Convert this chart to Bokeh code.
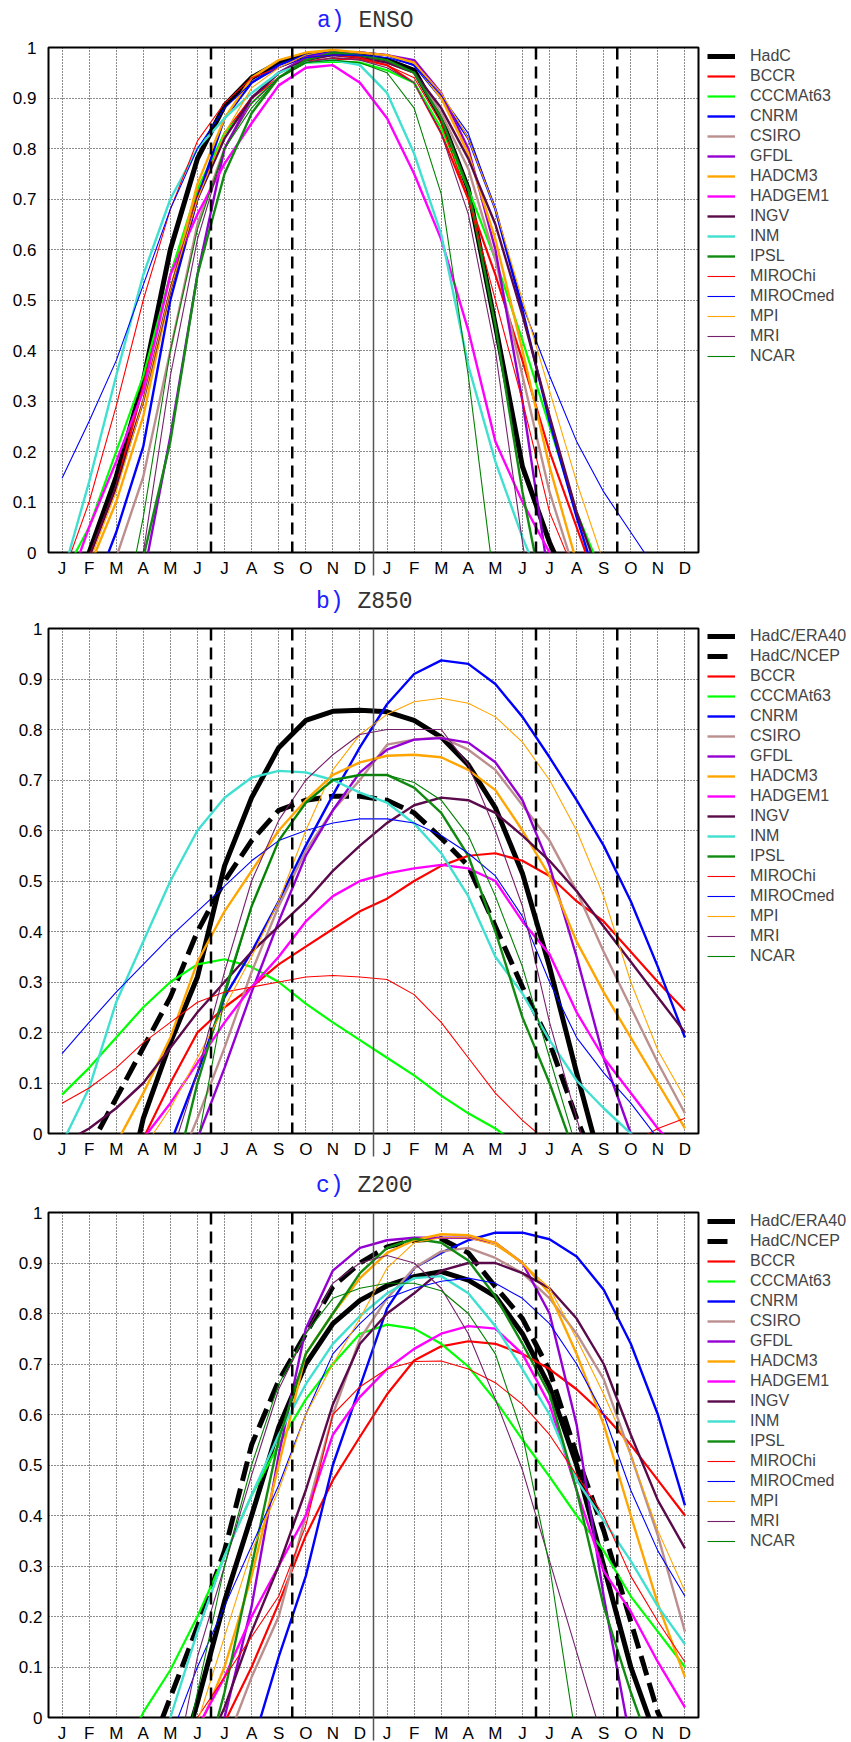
from bokeh.plotting import figure
from bokeh.models import Range1d, Legend, LegendItem, Span, Div, FixedTicker
from bokeh.layouts import column
from bokeh.embed import file_html
from bokeh.resources import INLINE

# ---------------- axes / categories ----------------
MONTHS = list(range(1, 25))
MONTH_LABELS = ["J", "F", "M", "A", "M", "J", "J", "A", "S", "O", "N", "D"] * 2
Y_TICKS = [0, 0.1, 0.2, 0.3, 0.4, 0.5, 0.6, 0.7, 0.8, 0.9, 1]
DASHED_MONTHS = [6.5, 9.5, 18.5, 21.5]
YEAR_BOUNDARY = 12.5

MODELS = ["BCCR", "CCCMAt63", "CNRM", "CSIRO", "GFDL", "HADCM3", "HADGEM1", "INGV",
          "INM", "IPSL", "MIROChi", "MIROCmed", "MPI", "MRI", "NCAR"]

# ---------------- a) ENSO ----------------
a_HadC = [-0.15, 0.0, 0.15, 0.34, 0.60, 0.78, 0.885, 0.94, 0.97, 0.985, 0.99, 0.985, 0.975, 0.955, 0.86, 0.72, 0.45, 0.17, 0.02, -0.1, -0.25, -0.4, -0.5, -0.6]
a_BCCR = [-0.2, -0.01, 0.13, 0.33, 0.55, 0.71, 0.83, 0.9, 0.94, 0.972, 0.978, 0.977, 0.965, 0.93, 0.83, 0.7, 0.55, 0.38, 0.2, 0.05, -0.1, -0.25, -0.4, -0.5]
a_CCCMAt63 = [-0.05, 0.05, 0.2, 0.35, 0.55, 0.72, 0.83, 0.89, 0.94, 0.97, 0.972, 0.97, 0.955, 0.93, 0.84, 0.72, 0.58, 0.42, 0.25, 0.08, -0.05, -0.2, -0.35, -0.5]
a_CNRM = [-0.3, -0.1, 0.04, 0.21, 0.5, 0.7, 0.86, 0.93, 0.965, 0.985, 0.99, 0.99, 0.985, 0.965, 0.9, 0.82, 0.68, 0.48, 0.26, 0.07, -0.1, -0.25, -0.4, -0.5]
a_CSIRO = [-0.4, -0.2, -0.01, 0.15, 0.4, 0.65, 0.8, 0.9, 0.95, 0.98, 0.985, 0.98, 0.97, 0.95, 0.87, 0.76, 0.58, 0.35, 0.12, -0.05, -0.2, -0.35, -0.5, -0.6]
a_GFDL = [-0.6, -0.45, -0.3, -0.05, 0.23, 0.55, 0.8, 0.9, 0.95, 0.98, 0.99, 0.99, 0.985, 0.975, 0.91, 0.8, 0.6, 0.3, -0.06, -0.3, -0.5, -0.6, -0.7, -0.8]
a_HADCM3 = [-0.3, -0.03, 0.1, 0.27, 0.52, 0.73, 0.86, 0.94, 0.975, 0.99, 0.995, 0.99, 0.985, 0.97, 0.9, 0.79, 0.62, 0.4, 0.17, -0.02, -0.2, -0.35, -0.5, -0.6]
a_HADGEM1 = [-0.1, 0.05, 0.18, 0.32, 0.55, 0.67, 0.77, 0.85, 0.925, 0.96, 0.965, 0.93, 0.86, 0.75, 0.62, 0.44, 0.22, 0.1, 0.0, -0.1, -0.2, -0.3, -0.4, -0.5]
a_INGV = [-0.15, -0.01, 0.13, 0.3, 0.52, 0.7, 0.82, 0.9, 0.95, 0.975, 0.985, 0.98, 0.97, 0.95, 0.88, 0.78, 0.65, 0.47, 0.27, 0.08, -0.07, -0.2, -0.35, -0.5]
a_INM = [-0.05, 0.14, 0.35, 0.55, 0.7, 0.8, 0.86, 0.91, 0.95, 0.97, 0.975, 0.965, 0.91, 0.79, 0.63, 0.37, 0.18, 0.03, -0.1, -0.2, -0.3, -0.4, -0.5, -0.6]
a_IPSL = [-0.6, -0.45, -0.2, -0.01, 0.22, 0.55, 0.75, 0.87, 0.94, 0.975, 0.99, 0.985, 0.975, 0.95, 0.86, 0.72, 0.45, 0.12, -0.15, -0.3, -0.45, -0.6, -0.7, -0.8]
a_MIROChi = [-0.05, 0.1, 0.29, 0.5, 0.68, 0.815, 0.89, 0.94, 0.96, 0.98, 0.985, 0.98, 0.965, 0.94, 0.85, 0.7, 0.5, 0.3, 0.08, -0.05, -0.2, -0.3, -0.4, -0.5]
a_MIROCmed = [0.147, 0.26, 0.38, 0.53, 0.68, 0.8, 0.88, 0.93, 0.96, 0.98, 0.985, 0.985, 0.98, 0.965, 0.905, 0.83, 0.68, 0.49, 0.35, 0.22, 0.12, 0.04, -0.04, -0.1]
a_MPI = [-0.25, -0.02, 0.12, 0.3, 0.52, 0.7, 0.83, 0.92, 0.96, 0.985, 0.995, 0.99, 0.985, 0.97, 0.91, 0.82, 0.68, 0.5, 0.32, 0.14, -0.02, -0.15, -0.3, -0.4]
a_MRI = [-0.6, -0.4, -0.2, 0.0, 0.35, 0.62, 0.8, 0.89, 0.94, 0.97, 0.98, 0.975, 0.96, 0.93, 0.83, 0.67, 0.4, 0.02, -0.3, -0.5, -0.6, -0.7, -0.8, -0.9]
a_NCAR = [-0.5, -0.35, -0.2, 0.07, 0.4, 0.64, 0.8, 0.88, 0.94, 0.97, 0.975, 0.97, 0.95, 0.88, 0.71, 0.35, -0.08, -0.3, -0.5, -0.6, -0.7, -0.8, -0.9, -1.0]

# ---------------- b) Z850 ----------------
b_ERA40 = [-0.5, -0.35, -0.2, 0.03, 0.18, 0.31, 0.53, 0.665, 0.764, 0.818, 0.836, 0.838, 0.835, 0.818, 0.785, 0.73, 0.645, 0.515, 0.33, 0.12, -0.08, -0.25, -0.4, -0.5]
b_NCEP = [-0.2, -0.03, 0.07, 0.17, 0.27, 0.40, 0.5, 0.58, 0.64, 0.66, 0.668, 0.668, 0.66, 0.635, 0.585, 0.53, 0.41, 0.29, 0.18, 0.03, -0.1, -0.2, -0.3, -0.4]
b_BCCR = [-0.3, -0.2, -0.1, -0.01, 0.1, 0.2, 0.25, 0.29, 0.335, 0.37, 0.405, 0.44, 0.465, 0.5, 0.53, 0.55, 0.555, 0.54, 0.51, 0.46, 0.42, 0.36, 0.3, 0.243]
b_CCCMAt63 = [0.077, 0.13, 0.19, 0.25, 0.30, 0.335, 0.345, 0.33, 0.3, 0.257, 0.22, 0.185, 0.15, 0.115, 0.075, 0.04, 0.01, -0.03, -0.06, -0.08, -0.1, -0.1, -0.1, -0.1]
b_CNRM = [-0.5, -0.4, -0.3, -0.15, -0.02, 0.12, 0.27, 0.36, 0.46, 0.57, 0.67, 0.765, 0.85, 0.91, 0.937, 0.93, 0.89, 0.825, 0.745, 0.66, 0.57, 0.46, 0.33, 0.19]
b_CSIRO = [-0.5, -0.4, -0.3, -0.2, -0.1, 0.03, 0.17, 0.32, 0.45, 0.56, 0.64, 0.70, 0.77, 0.78, 0.785, 0.76, 0.72, 0.65, 0.58, 0.48, 0.36, 0.25, 0.14, 0.04]
b_GFDL = [-0.7, -0.6, -0.5, -0.4, -0.2, -0.01, 0.13, 0.28, 0.42, 0.55, 0.64, 0.715, 0.76, 0.78, 0.783, 0.774, 0.735, 0.66, 0.53, 0.35, 0.15, 0.0, -0.15, -0.3]
b_HADCM3 = [-0.3, -0.15, -0.02, 0.08, 0.19, 0.34, 0.44, 0.52, 0.6, 0.66, 0.71, 0.735, 0.748, 0.75, 0.745, 0.72, 0.68, 0.6, 0.51, 0.38, 0.28, 0.19, 0.1, 0.01]
b_HADGEM1 = [-0.3, -0.2, -0.1, -0.01, 0.06, 0.14, 0.22, 0.29, 0.35, 0.42, 0.47, 0.5, 0.515, 0.525, 0.532, 0.525, 0.5, 0.42, 0.355, 0.24, 0.15, 0.08, 0.01, -0.05]
b_INGV = [-0.02, 0.01, 0.05, 0.1, 0.17, 0.24, 0.3, 0.36, 0.41, 0.46, 0.52, 0.57, 0.615, 0.65, 0.665, 0.66, 0.635, 0.59, 0.54, 0.48, 0.41, 0.34, 0.27, 0.2]
b_INM = [-0.02, 0.09, 0.26, 0.38, 0.5, 0.6, 0.665, 0.705, 0.718, 0.715, 0.7, 0.675, 0.655, 0.614, 0.555, 0.47, 0.35, 0.277, 0.185, 0.105, 0.05, 0.0, -0.05, -0.1]
b_IPSL = [-0.7, -0.6, -0.5, -0.35, -0.12, 0.1, 0.28, 0.45, 0.58, 0.655, 0.7, 0.71, 0.71, 0.685, 0.635, 0.55, 0.4, 0.23, 0.1, -0.05, -0.2, -0.3, -0.4, -0.5]
b_MIROChi = [0.06, 0.09, 0.13, 0.18, 0.22, 0.26, 0.28, 0.29, 0.30, 0.31, 0.313, 0.31, 0.305, 0.275, 0.22, 0.15, 0.08, 0.026, -0.02, -0.05, -0.05, -0.02, 0.01, 0.03]
b_MIROCmed = [0.158, 0.22, 0.28, 0.335, 0.39, 0.44, 0.49, 0.54, 0.58, 0.6, 0.615, 0.623, 0.623, 0.615, 0.59, 0.555, 0.51, 0.43, 0.3, 0.19, 0.12, 0.06, -0.01, -0.06]
b_MPI = [-0.3, -0.2, -0.1, -0.03, 0.05, 0.15, 0.25, 0.35, 0.46, 0.6, 0.72, 0.79, 0.83, 0.855, 0.862, 0.852, 0.825, 0.775, 0.7, 0.6, 0.47, 0.3, 0.165, 0.07]
b_MRI = [-0.6, -0.5, -0.4, -0.3, -0.05, 0.12, 0.32, 0.5, 0.62, 0.7, 0.75, 0.79, 0.8, 0.8, 0.8, 0.73, 0.6, 0.45, 0.22, 0.03, -0.15, -0.3, -0.45, -0.6]
b_NCAR = [-0.7, -0.6, -0.5, -0.4, -0.25, -0.02, 0.27, 0.45, 0.58, 0.655, 0.7, 0.71, 0.71, 0.695, 0.66, 0.59, 0.47, 0.33, 0.15, -0.03, -0.2, -0.3, -0.4, -0.5]

# ---------------- c) Z200 ----------------
c_ERA40 = [-0.6, -0.5, -0.4, -0.3, -0.15, 0.03, 0.23, 0.40, 0.575, 0.70, 0.78, 0.826, 0.855, 0.873, 0.883, 0.866, 0.834, 0.76, 0.655, 0.5, 0.3, 0.1, -0.05, -0.2]
c_NCEP = [-0.4, -0.3, -0.2, -0.1, 0.04, 0.18, 0.33, 0.54, 0.667, 0.76, 0.853, 0.9, 0.932, 0.945, 0.948, 0.92, 0.853, 0.79, 0.687, 0.52, 0.37, 0.19, 0.01, -0.1]
c_BCCR = [-0.7, -0.6, -0.5, -0.4, -0.3, -0.2, -0.01, 0.1, 0.226, 0.36, 0.47, 0.556, 0.64, 0.707, 0.735, 0.745, 0.74, 0.72, 0.69, 0.65, 0.6, 0.54, 0.47, 0.40]
c_CCCMAt63 = [-0.3, -0.2, -0.1, 0.01, 0.094, 0.2, 0.32, 0.44, 0.54, 0.63, 0.7, 0.76, 0.778, 0.77, 0.74, 0.695, 0.628, 0.55, 0.477, 0.4, 0.33, 0.24, 0.17, 0.1]
c_CNRM = [-0.9, -0.8, -0.7, -0.6, -0.5, -0.4, -0.3, -0.06, 0.12, 0.28, 0.5, 0.655, 0.81, 0.89, 0.92, 0.945, 0.96, 0.96, 0.947, 0.913, 0.847, 0.74, 0.6, 0.42]
c_CSIRO = [-0.8, -0.7, -0.6, -0.5, -0.4, -0.3, -0.06, 0.08, 0.2, 0.4, 0.6, 0.75, 0.83, 0.89, 0.923, 0.93, 0.91, 0.88, 0.83, 0.76, 0.67, 0.52, 0.36, 0.17]
c_GFDL = [-0.8, -0.7, -0.6, -0.5, -0.4, -0.2, 0.0, 0.22, 0.52, 0.77, 0.885, 0.93, 0.945, 0.95, 0.95, 0.95, 0.94, 0.9, 0.8, 0.58, 0.24, -0.05, -0.3, -0.5]
c_HADCM3 = [-0.6, -0.5, -0.4, -0.3, -0.2, -0.03, 0.1, 0.28, 0.5, 0.72, 0.8, 0.87, 0.92, 0.945, 0.957, 0.955, 0.94, 0.9, 0.84, 0.72, 0.58, 0.4, 0.225, 0.08]
c_HADGEM1 = [-0.6, -0.5, -0.4, -0.3, -0.2, -0.02, 0.08, 0.2, 0.3, 0.4, 0.56, 0.635, 0.69, 0.73, 0.76, 0.775, 0.77, 0.72, 0.62, 0.45, 0.29, 0.21, 0.11, 0.02]
c_INGV = [-0.6, -0.5, -0.4, -0.3, -0.2, -0.1, 0.02, 0.17, 0.3, 0.45, 0.62, 0.74, 0.8, 0.84, 0.885, 0.9, 0.9, 0.88, 0.85, 0.79, 0.7, 0.56, 0.43, 0.335]
c_INM = [-0.5, -0.4, -0.3, -0.2, 0.0, 0.17, 0.32, 0.44, 0.56, 0.66, 0.74, 0.795, 0.84, 0.87, 0.874, 0.84, 0.775, 0.69, 0.6, 0.47, 0.39, 0.31, 0.22, 0.145]
c_IPSL = [-0.8, -0.7, -0.6, -0.5, -0.4, -0.15, 0.05, 0.3, 0.55, 0.72, 0.8, 0.88, 0.93, 0.948, 0.94, 0.905, 0.834, 0.74, 0.64, 0.45, 0.22, 0.05, -0.1, -0.2]
c_MIROChi = [-0.4, -0.3, -0.2, -0.12, -0.05, 0.0, 0.08, 0.16, 0.24, 0.38, 0.6, 0.655, 0.69, 0.705, 0.706, 0.69, 0.663, 0.62, 0.56, 0.48, 0.4, 0.28, 0.19, 0.11]
c_MIROCmed = [-0.4, -0.3, -0.2, -0.12, -0.04, 0.1, 0.22, 0.34, 0.46, 0.6, 0.72, 0.78, 0.83, 0.85, 0.864, 0.87, 0.86, 0.83, 0.78, 0.7, 0.6, 0.45, 0.33, 0.24]
c_MPI = [-0.5, -0.4, -0.3, -0.2, -0.1, -0.01, 0.16, 0.33, 0.45, 0.6, 0.7, 0.79, 0.89, 0.94, 0.95, 0.95, 0.935, 0.9, 0.85, 0.75, 0.64, 0.52, 0.37, 0.25]
c_MRI = [-0.6, -0.5, -0.4, -0.3, -0.15, 0.12, 0.3, 0.48, 0.65, 0.76, 0.86, 0.9, 0.915, 0.9, 0.85, 0.76, 0.63, 0.49, 0.31, 0.13, -0.05, -0.2, -0.35, -0.5]
c_NCAR = [-0.6, -0.5, -0.4, -0.3, -0.2, 0.05, 0.3, 0.5, 0.66, 0.76, 0.83, 0.85, 0.86, 0.86, 0.845, 0.8, 0.72, 0.56, 0.3, -0.05, -0.3, -0.5, -0.6, -0.7]

# ---------------- styles ----------------
STYLE = {
    "BCCR": ("#ff0000", 2.2), "CCCMAt63": ("#00ff00", 2.2), "CNRM": ("#0000ff", 2.4),
    "CSIRO": ("#bc8f8f", 2.4), "GFDL": ("#9400d3", 2.4), "HADCM3": ("#ffa500", 2.4),
    "HADGEM1": ("#ff00ff", 2.4), "INGV": ("#5a0a4a", 2.4), "INM": ("#40e0d0", 2.4),
    "IPSL": ("#108a10", 2.4), "MIROChi": ("#ff0000", 1.1), "MIROCmed": ("#0000ff", 1.1),
    "MPI": ("#ffa500", 1.1), "MRI": ("#75206a", 1.1), "NCAR": ("#008000", 1.1),
}

PANEL_A = dict(zip(MODELS, [a_BCCR, a_CCCMAt63, a_CNRM, a_CSIRO, a_GFDL, a_HADCM3, a_HADGEM1,
                            a_INGV, a_INM, a_IPSL, a_MIROChi, a_MIROCmed, a_MPI, a_MRI, a_NCAR]))
PANEL_B = dict(zip(MODELS, [b_BCCR, b_CCCMAt63, b_CNRM, b_CSIRO, b_GFDL, b_HADCM3, b_HADGEM1,
                            b_INGV, b_INM, b_IPSL, b_MIROChi, b_MIROCmed, b_MPI, b_MRI, b_NCAR]))
PANEL_C = dict(zip(MODELS, [c_BCCR, c_CCCMAt63, c_CNRM, c_CSIRO, c_GFDL, c_HADCM3, c_HADGEM1,
                            c_INGV, c_INM, c_IPSL, c_MIROChi, c_MIROCmed, c_MPI, c_MRI, c_NCAR]))

FW, FH = 650, 505
TOTAL_W = 851
FONT = "Liberation Sans"
ROW = 20
BOUNDARY_TICK = 23


def make_title(letter, name, height, line_h, pad_left):
    html = ('<span style="color:#2020ff">%s</span>&nbsp;%s' % (letter, name))
    return Div(text=html, width=TOTAL_W, height=height, margin=(0, 0, 0, 0),
               styles={"font-family": "'Liberation Mono', monospace", "font-size": "23px",
                       "color": "#333333", "line-height": "%dpx" % line_h,
                       "padding-left": "%dpx" % pad_left, "white-space": "nowrap"})


def make_panel(refs, models, left, top, bottom, ystand, legend_top_extra):
    p = figure(frame_width=FW, frame_height=FH,
               min_border_left=left, min_border_right=TOTAL_W - left - FW,
               min_border_top=top, min_border_bottom=bottom,
               x_range=Range1d(0.5, 24.5), y_range=Range1d(0, 1),
               output_backend="svg", toolbar_location=None, margin=(0, 0, 0, 0))
    p.background_fill_color = "white"
    p.border_fill_color = "white"
    p.outline_line_color = "black"
    p.outline_line_width = 2

    # month ticks carry the labels; the minor tick marks the year boundary below the frame
    p.xaxis.ticker = FixedTicker(ticks=MONTHS, minor_ticks=[YEAR_BOUNDARY])
    p.xaxis.major_label_overrides = {m: lab for m, lab in zip(MONTHS, MONTH_LABELS)}
    p.yaxis.ticker = FixedTicker(ticks=Y_TICKS, minor_ticks=[])
    p.yaxis.major_label_overrides = {0: "0", 1: "1"}
    for ax in (p.xaxis[0], p.yaxis[0]):
        ax.axis_line_color = None
        ax.major_tick_line_color = None
        ax.major_tick_out = 0
        ax.major_tick_in = 0
        ax.major_label_text_font = FONT
        ax.major_label_text_font_size = "17px"
        ax.major_label_text_color = "black"
    p.yaxis.minor_tick_line_color = None
    p.yaxis.minor_tick_out = 0
    p.xaxis.minor_tick_line_color = "#555555"
    p.xaxis.minor_tick_line_width = 1.5
    p.xaxis.minor_tick_out = BOUNDARY_TICK
    p.xaxis.minor_tick_in = 0
    p.xaxis.major_label_standoff = 6 - BOUNDARY_TICK
    p.yaxis.major_label_standoff = ystand

    for g in (p.xgrid[0], p.ygrid[0]):
        g.grid_line_color = "black"
        g.grid_line_alpha = 0.9
        g.grid_line_dash = "1 2"
        g.grid_line_width = 1

    items = []
    for label, vals, dash in refs:
        r = p.line(MONTHS, vals, line_color="black", line_width=5, line_dash=dash,
                   line_join="round")
        items.append(LegendItem(label=label, renderers=[r]))
    for m in MODELS:
        col, w = STYLE[m]
        r = p.line(MONTHS, models[m], line_color=col, line_width=w, line_join="round")
        items.append(LegendItem(label=m, renderers=[r]))

    for xm in DASHED_MONTHS:
        p.add_layout(Span(location=xm, dimension="height", line_color="black",
                          line_width=2.5, line_dash="12 7"))
    p.add_layout(Span(location=YEAR_BOUNDARY, dimension="height", line_color="#555555",
                      line_width=1.5))

    n = len(items)
    legend = Legend(items=items, location=(9, FH + legend_top_extra - n * ROW))
    legend.glyph_width = 28
    legend.glyph_height = ROW
    legend.label_height = ROW
    legend.spacing = 0
    legend.padding = 0
    legend.margin = 0
    legend.label_standoff = 15
    legend.label_text_font = FONT
    legend.label_text_font_size = "16px"
    legend.border_line_alpha = 0
    legend.background_fill_alpha = 0
    p.add_layout(legend, "right")
    return p


ta = make_title("a)", "ENSO", 35, 42, 317)
pa = make_panel([("HadC", a_HadC, "solid")], PANEL_A,
                left=48, top=12, bottom=30, ystand=12, legend_top_extra=1)
tb = make_title("b)", "Z850", 34, 40, 316)
pb = make_panel([("HadC/ERA40", b_ERA40, "solid"), ("HadC/NCEP", b_NCEP, "20 8")], PANEL_B,
                left=42, top=12, bottom=25, ystand=6, legend_top_extra=2)
tc = make_title("c)", "Z200", 39, 50, 316)
pc = make_panel([("HadC/ERA40", c_ERA40, "solid"), ("HadC/NCEP", c_NCEP, "20 8")], PANEL_C,
                left=42, top=12, bottom=26, ystand=6, legend_top_extra=1)

layout = column(ta, pa, tb, pb, tc, pc, spacing=0)
open("out.html", "w").write(file_html(layout, INLINE))
